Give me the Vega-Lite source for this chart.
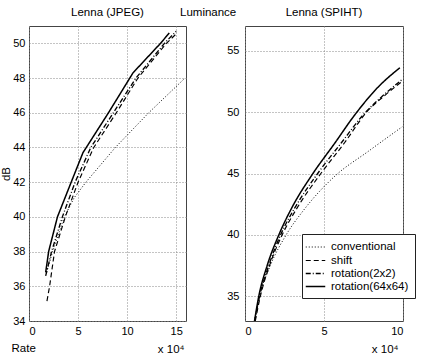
{
  "$schema": "https://vega.github.io/schema/vega-lite/v6.json",
  "padding": {"left": 0, "top": 6, "right": 0, "bottom": 0},
  "bounds": "flush",
  "spacing": 59,
  "title": {"text": "Luminance", "offset": -12, "anchor": "middle", "color": "black", "fontWeight": "normal", "fontSize": 11.5},
  "config": {
    "font": "Liberation Sans",
    "view": {"stroke": "#444", "strokeWidth": 1},
    "axis": {"domain": false, "ticks": false, "grid": true, "gridColor": "#888", "gridDash": [1, 2], "gridWidth": 1, "labelFontSize": 11, "labelColor": "black", "labelPadding": 4, "labelOverlap": false, "titleFontSize": 11.5, "titleFontWeight": "normal", "titleColor": "black"},
    "axisY": {"titlePadding": 1},
    "title": {"fontSize": 11.5, "fontWeight": "normal", "color": "black", "offset": 8}
  },
  "datasets": {
    "jpeg": [
      {"method": "conventional", "rate": 1.8, "db": 36.8},
      {"method": "conventional", "rate": 2.4, "db": 38.0},
      {"method": "conventional", "rate": 3.6, "db": 40.0},
      {"method": "conventional", "rate": 4.6, "db": 41.1},
      {"method": "conventional", "rate": 5.8, "db": 42.0},
      {"method": "conventional", "rate": 8.8, "db": 44.0},
      {"method": "conventional", "rate": 12.2, "db": 46.0},
      {"method": "conventional", "rate": 15.9, "db": 48.0},
      {"method": "shift", "rate": 1.83, "db": 35.15},
      {"method": "shift", "rate": 2.1, "db": 36.0},
      {"method": "shift", "rate": 2.6, "db": 38.0},
      {"method": "shift", "rate": 3.7, "db": 40.0},
      {"method": "shift", "rate": 5.0, "db": 42.0},
      {"method": "shift", "rate": 6.6, "db": 44.0},
      {"method": "shift", "rate": 8.9, "db": 46.0},
      {"method": "shift", "rate": 11.1, "db": 48.0},
      {"method": "shift", "rate": 14.0, "db": 50.0},
      {"method": "shift", "rate": 15.1, "db": 50.6},
      {"method": "rotation(2x2)", "rate": 1.7, "db": 36.6},
      {"method": "rotation(2x2)", "rate": 2.3, "db": 38.0},
      {"method": "rotation(2x2)", "rate": 3.4, "db": 40.0},
      {"method": "rotation(2x2)", "rate": 4.7, "db": 42.0},
      {"method": "rotation(2x2)", "rate": 6.3, "db": 44.0},
      {"method": "rotation(2x2)", "rate": 8.6, "db": 46.0},
      {"method": "rotation(2x2)", "rate": 10.9, "db": 48.0},
      {"method": "rotation(2x2)", "rate": 13.8, "db": 50.0},
      {"method": "rotation(2x2)", "rate": 15.0, "db": 50.7},
      {"method": "rotation(64x64)", "rate": 1.7, "db": 36.8},
      {"method": "rotation(64x64)", "rate": 2.0, "db": 38.0},
      {"method": "rotation(64x64)", "rate": 2.9, "db": 40.0},
      {"method": "rotation(64x64)", "rate": 4.3, "db": 42.0},
      {"method": "rotation(64x64)", "rate": 5.5, "db": 43.7},
      {"method": "rotation(64x64)", "rate": 8.1, "db": 46.0},
      {"method": "rotation(64x64)", "rate": 10.6, "db": 48.3},
      {"method": "rotation(64x64)", "rate": 13.4, "db": 50.0},
      {"method": "rotation(64x64)", "rate": 14.3, "db": 50.6}
    ],
    "spiht": [
      {"method": "conventional", "rate": 0.6, "db": 33.0},
      {"method": "conventional", "rate": 0.92, "db": 35.0},
      {"method": "conventional", "rate": 1.6, "db": 37.5},
      {"method": "conventional", "rate": 2.6, "db": 40.0},
      {"method": "conventional", "rate": 3.7, "db": 42.0},
      {"method": "conventional", "rate": 5.7, "db": 44.8},
      {"method": "conventional", "rate": 7.8, "db": 46.8},
      {"method": "conventional", "rate": 9.95, "db": 48.8},
      {"method": "shift", "rate": 0.65, "db": 33.0},
      {"method": "shift", "rate": 0.97, "db": 35.0},
      {"method": "shift", "rate": 1.55, "db": 37.5},
      {"method": "shift", "rate": 2.35, "db": 40.0},
      {"method": "shift", "rate": 3.3, "db": 42.2},
      {"method": "shift", "rate": 4.8, "db": 45.0},
      {"method": "shift", "rate": 6.3, "db": 47.5},
      {"method": "shift", "rate": 7.7, "db": 50.0},
      {"method": "shift", "rate": 8.8, "db": 51.3},
      {"method": "shift", "rate": 9.95, "db": 52.5},
      {"method": "rotation(2x2)", "rate": 0.62, "db": 33.0},
      {"method": "rotation(2x2)", "rate": 0.92, "db": 35.0},
      {"method": "rotation(2x2)", "rate": 1.5, "db": 37.5},
      {"method": "rotation(2x2)", "rate": 2.25, "db": 40.0},
      {"method": "rotation(2x2)", "rate": 3.15, "db": 42.2},
      {"method": "rotation(2x2)", "rate": 4.6, "db": 45.0},
      {"method": "rotation(2x2)", "rate": 6.1, "db": 47.5},
      {"method": "rotation(2x2)", "rate": 7.5, "db": 49.8},
      {"method": "rotation(2x2)", "rate": 8.7, "db": 51.3},
      {"method": "rotation(2x2)", "rate": 9.9, "db": 52.6},
      {"method": "rotation(64x64)", "rate": 0.6, "db": 33.0},
      {"method": "rotation(64x64)", "rate": 0.87, "db": 35.0},
      {"method": "rotation(64x64)", "rate": 1.4, "db": 37.5},
      {"method": "rotation(64x64)", "rate": 2.14, "db": 40.0},
      {"method": "rotation(64x64)", "rate": 3.0, "db": 42.3},
      {"method": "rotation(64x64)", "rate": 4.3, "db": 45.0},
      {"method": "rotation(64x64)", "rate": 5.7, "db": 47.5},
      {"method": "rotation(64x64)", "rate": 6.85, "db": 49.6},
      {"method": "rotation(64x64)", "rate": 8.4, "db": 52.0},
      {"method": "rotation(64x64)", "rate": 9.8, "db": 53.6}
    ]
  },
  "hconcat": [
    {
      "width": 157,
      "height": 295,
      "title": {"text": "Lenna (JPEG)"},
      "data": {"name": "jpeg"},
      "layer": [
        {
          "mark": {"type": "line", "clip": true, "color": "black"},
          "encoding": {
            "x": {"field": "rate", "type": "quantitative", "scale": {"domain": [0, 16]}, "axis": {"orient": "bottom", "values": [0, 5, 10, 15], "title": "Rate", "titleX": -18, "titleY": 30, "titleAlign": "left", "titleBaseline": "alphabetic"}},
            "y": {"field": "db", "type": "quantitative", "scale": {"domain": [34, 51]}, "axis": {"values": [34, 36, 38, 40, 42, 44, 46, 48, 50], "title": "dB"}},
            "strokeDash": {"field": "method", "type": "nominal", "scale": {"domain": ["conventional", "shift", "rotation(2x2)", "rotation(64x64)"], "range": [[1, 2], [5, 3], [5, 2, 1, 2], [1, 0]]}, "legend": null},
            "strokeWidth": {"field": "method", "type": "nominal", "scale": {"domain": ["conventional", "shift", "rotation(2x2)", "rotation(64x64)"], "range": [1, 1.5, 1.2, 1.5]}, "legend": null}
          }
        },
        {
          "mark": {"type": "rule", "opacity": 0},
          "encoding": {
            "x": {"field": "rate", "type": "quantitative", "axis": {"orient": "bottom", "labels": false, "grid": false, "title": "x 10⁴", "titleX": 155, "titleY": 31, "titleAlign": "right", "titleBaseline": "alphabetic"}}
          }
        }
      ],
      "resolve": {"axis": {"x": "independent"}}
    },
    {
      "width": 158,
      "height": 295,
      "title": {"text": "Lenna (SPIHT)"},
      "data": {"name": "spiht"},
      "mark": {"type": "line", "clip": true, "color": "black", "interpolate": "monotone"},
      "encoding": {
        "x": {"field": "rate", "type": "quantitative", "scale": {"domain": [0, 10]}, "axis": {"values": [0, 5, 10], "title": "x 10⁴", "titleX": 153, "titleY": 31, "titleAlign": "right", "titleBaseline": "alphabetic"}},
        "y": {"field": "db", "type": "quantitative", "scale": {"domain": [33, 57]}, "axis": {"values": [35, 40, 45, 50, 55], "title": null, "labelPadding": 6}},
        "strokeDash": {"field": "method", "type": "nominal", "scale": {"domain": ["conventional", "shift", "rotation(2x2)", "rotation(64x64)"], "range": [[1, 2], [5, 3], [5, 2, 1, 2], [1, 0]]}, "legend": {"orient": "none", "legendX": 57, "legendY": 208, "title": null, "symbolType": "M-1.5,0H1.5", "symbolSize": 169, "symbolStrokeColor": "black", "symbolStrokeWidth": 1.5, "symbolFillColor": "transparent", "fillColor": "white", "strokeColor": "#222", "padding": 6, "labelFontSize": 11.5, "labelColor": "black", "labelOffset": 8, "rowPadding": 0}},
        "strokeWidth": {"field": "method", "type": "nominal", "scale": {"domain": ["conventional", "shift", "rotation(2x2)", "rotation(64x64)"], "range": [1, 1.5, 1.2, 1.5]}, "legend": null}
      }
    }
  ],
  "resolve": {"scale": {"strokeDash": "independent", "strokeWidth": "independent"}, "legend": {"strokeDash": "independent"}}
}
